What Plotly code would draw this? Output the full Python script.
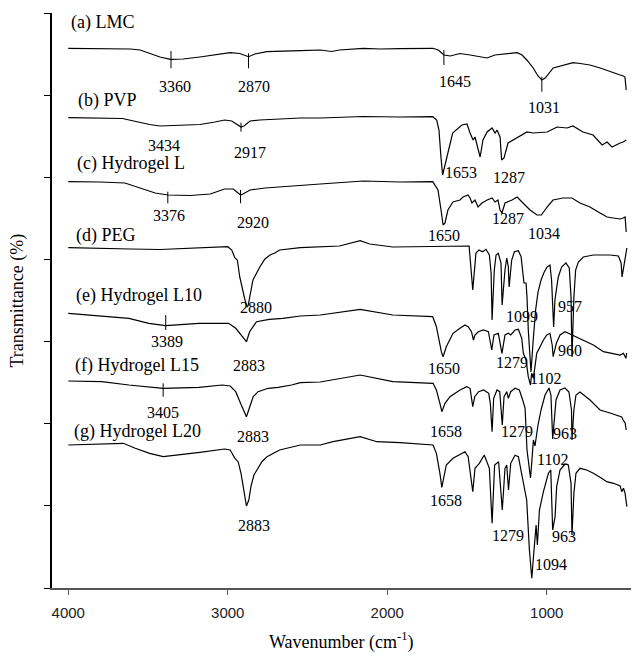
import plotly.graph_objects as go

# ---------------- data (wavenumber in cm-1, transmittance in arbitrary stacked units) -------------
wn_a = [4000,3800,3610,3550,3490,3425,3360,3280,3175,3080,2985,2925,2870,2830,2755,2545,2420,2350,2300,2150,
        2045,1920,1795,1715,1680,1645,1605,1545,1480,1420,1375,1325,1260,1185,1155,1125,1085,1055,1031,1010,
        960,915,835,790,730,665,605,540,520,510,502]
t_a = [539.7,539.5,539,538,535,531,528.7,529,531,533,535.3,534.5,531.3,534,536.3,537.3,538,536.5,538,539.7,
       539,539.3,539.5,539.7,538,533,532,534.5,533,531,530,533,534,535.3,533,528,520,512,508,510,
       520,522,525.3,524.5,523,520,516.3,513,512,511,498]

wn_b = [4000,3800,3660,3590,3490,3425,3300,3175,3080,3020,2975,2935,2917,2898,2860,2800,2675,2545,2420,2150,
        1920,1715,1690,1676,1663,1653,1626,1590,1532,1500,1481,1462,1450,1418,1400,1374,1343,1324,1312,1293,
        1283,1268,1243,1186,1124,1086,998,936,873,836,773,710,653,622,591,540,521,502]
t_b = [470.3,470,469.5,467,463.5,462,462.5,463.5,466,468,467,463,461,462,467,468,469,470,470,471.5,
       471,471.3,468,458,430,413,431,455,463,464,455,448,451,431,448,456,460,455,458,451,
       428,430,445,450,456,455,456,461,460,462,456,453,443,446,441,445,446,448]

wn_c = [4000,3800,3645,3550,3455,3375,3235,3110,3020,2965,2935,2920,2905,2860,2765,2610,2420,2150,1920,1715,
        1682,1663,1650,1638,1620,1588,1544,1525,1494,1481,1469,1450,1431,1406,1374,1343,1324,1306,1293,1281,
        1262,1218,1186,1149,1105,1061,1034,998,961,898,842,792,729,666,622,584,540,521,509,502]
t_c = [406.3,406,405,400,395,393,392.5,394,399,399,395,393,394,398,400,402,404,407,406,406.3,
       398,378,363,365,378,386,388,391,393,390,385,388,381,385,388,390,386,388,378,375,
       385,388,391,385,378,373,373,381,388,390,390,385,381,375,371,370,369,370,371,356]

wn_d = [4000,3800,3610,3425,3235,3050,3000,2975,2955,2940,2925,2892,2880,2873,2857,2842,2819,2798,2767,2735,
        2705,2675,2545,2420,2300,2170,2110,1965,1755,1545,1487,1464,1444,1425,1402,1381,1360,1349,1343,1329,
        1318,1304,1287,1280,1262,1251,1241,1236,1220,1203,1178,1161,1151,1143,1130,1124,1116,1099,1085,1070,
        1055,1036,1016,998,980,970,957,949,928,907,880,859,848,842,830,819,802,771,708,603,
        551,534,528,519,509,498]
t_d = [340.3,340,339,338.5,339.5,341,341.3,338,330,328,311,288,281.3,282,295,308,315,321.3,329,333,
       335,338,340.3,341.3,342,347.3,344,341,341.3,342,342,298,335,338,336.3,338.7,333,315,268,318,
       333,334.7,325,283,318,330,321.3,301,328,336.3,337.3,331.3,315,305,305,291,258,216,248,278,
       296,308,316,321,323,308,261,288,311,321,325,320,291,231,291,318,326,331,333,333,
       332,325,311,320,326,340]

wn_e = [4000,3620,3495,3390,3180,2995,2950,2905,2883,2863,2820,2740,2655,2545,2420,2170,1965,1715,1692,1661,
        1650,1630,1588,1544,1513,1493,1472,1460,1450,1429,1398,1366,1345,1331,1304,1281,1262,1241,1226,1199,
        1178,1157,1147,1130,1116,1102,1095,1084,1074,1063,1042,1021,1000,980,966,960,940,917,886,865,
        834,792,708,645,582,540,519,504,499]
t_e = [274.7,269.7,264.7,262.3,264.7,264.7,259.7,251.3,246.3,256.3,266.3,268.7,269.7,272,273,278.7,273,271.3,261.3,236.3,
       231.3,241.3,254.7,259.7,263,261.3,256.3,248,253,256.3,258,256.3,238,253,254.7,234.7,253,254.7,253,258,
       258.7,249.7,234.7,228,211.3,203,214.7,209.7,224.7,234.7,241.3,248,253,254.7,243,231.3,244.7,253,256.3,254.7,
       253,249.7,243,236.3,234.7,233,234.7,229.7,235]

wn_f = [4000,3790,3620,3405,3180,3035,2985,2950,2920,2883,2862,2841,2810,2747,2684,2600,2545,2420,2170,1965,
        1713,1692,1670,1658,1638,1607,1544,1502,1481,1464,1452,1427,1396,1364,1354,1343,1333,1312,1295,1279,
        1268,1251,1241,1226,1199,1172,1151,1136,1124,1102,1093,1084,1074,1055,1036,1011,986,974,963,955,
        942,917,886,861,845,842,830,817,792,729,666,603,561,530,521,509,502]
t_f = [207,206.3,203,199.7,200.7,203,202,196.3,184.7,171.3,181.3,191.3,196.3,199.7,200.7,203,205.3,206,213,206.3,
       204.7,198,184.7,176.3,184.7,191.3,198,201.3,199.7,181.3,191.3,196.3,198,194.7,184.7,156.3,189.7,198,196.3,163,
       191.3,196.3,189.7,196.3,199.7,198,188,179.7,138,110,128,148,142,163,178,193,200,193,149,168,
       188,198,200,196,178,148,178,193,196,188,178,175,173,171,168,165,158]

wn_g = [4000,3800,3655,3580,3490,3405,3300,3175,3020,2985,2955,2935,2917,2898,2883,2868,2855,2836,2811,2786,
        2754,2717,2675,2545,2420,2340,2170,2065,1920,1713,1692,1670,1658,1630,1588,1513,1493,1464,1450,1423,
        1392,1360,1343,1327,1302,1279,1262,1251,1240,1226,1199,1178,1157,1143,1126,1109,1094,1080,1067,1059,
        1046,1021,990,975,969,963,948,938,917,886,865,848,842,830,817,792,750,708,656,624,
        582,540,530,519,509,498]
t_g = [143,144,144.7,139.7,134.7,131.3,133,135.7,139,138,129.7,126.3,114.7,94.7,82,88,101.3,113,119.7,126.3,
       131.3,134.7,138,143,143,146.3,151.3,146.3,145.3,143,134.7,114.7,100.7,123,129.7,136.3,131.3,96.3,119.7,124.7,
       133,119.7,64.7,123,126.3,78,119.7,123,98,124.7,132.7,131.3,114.7,101.3,88,38,9.7,38,63,43,
       78,96.3,114.7,118,94.7,58,71.3,101.3,118,124,123,104.7,53,94.7,114.7,119.7,118,114.7,109.7,106.3,
       104.7,102,96.3,99.7,94.7,81.3]

spectra_wn = [wn_a, wn_b, wn_c, wn_d, wn_e, wn_f, wn_g]
spectra_t = [t_a, t_b, t_c, t_d, t_e, t_f, t_g]

# sample labels
label_text = ["(a) LMC", "(b) PVP", "(c) Hydrogel L", "(d) PEG", "(e) Hydrogel L10", "(f) Hydrogel L15", "(g) Hydrogel L20"]
label_wn = [3786, 3757, 3605, 3761, 3554, 3569, 3564]
label_t = [566, 488, 425, 353, 292.3, 223, 157]

# peak labels
peak_text = ["3360", "2870", "1645", "1031",
             "3434", "2917", "1653", "1287",
             "3376", "2920", "1650", "1287", "1034",
             "2880", "1099", "957",
             "3389", "2883", "1650", "1279", "1102", "960",
             "3405", "2883", "1658", "1279", "963", "1102",
             "2883", "1658", "1279", "963", "1094"]
peak_wn = [3331, 2834, 1577, 1020,
           3397, 2861, 1536, 1234,
           3370, 2845, 1645, 1243, 1019,
           2824, 1155, 855,
           3380, 2866, 1646, 1220, 1005, 852,
           3404, 2843, 1630, 1188, 886, 967,
           2834, 1634, 1243, 892, 976]
peak_t = [502, 502, 507, 481,
          443, 435.3, 416, 411,
          373, 365.7, 353, 369.7, 355,
          280.7, 272, 281.3,
          246.3, 222.3, 219.7, 225.7, 209.7, 238,
          176, 151.3, 156.3, 156.3, 154.7, 128.7,
          63, 88, 53, 52, 23.7]

# short vertical peak markers
mark_wn = [3356, 2870, 1645, 1031, 2917, 3376, 2920, 3389, 3405]
mark_lo = [519.7, 519.7, 523, 496.3, 456.3, 384.7, 384.7, 258, 191.3]
mark_hi = [537, 534.7, 538, 511.3, 465.3, 396.3, 398, 273, 204.7]

x_ticks = [4000, 3000, 2000, 1000]

for w, t in zip(spectra_wn, spectra_t):
    assert len(w) == len(t), (len(w), len(t))
assert len(peak_text) == len(peak_wn) == len(peak_t)

# ---------------- figure ----------------
fig = go.Figure()
for w, t in zip(spectra_wn, spectra_t):
    fig.add_trace(go.Scatter(x=w, y=t, mode="lines",
                             line=dict(color="black", width=1.2), showlegend=False, hoverinfo="skip"))

for xm, lo, hi in zip(mark_wn, mark_lo, mark_hi):
    fig.add_shape(type="line", xref="x", yref="y", x0=xm, x1=xm, y0=lo, y1=hi,
                  line=dict(color="black", width=1))

serif = "Liberation Serif, Times New Roman, serif"
for txt, xw, yt in zip(label_text, label_wn, label_t):
    fig.add_annotation(x=xw, y=yt, text=txt, showarrow=False, xanchor="center", yanchor="middle",
                       font=dict(family=serif, size=18, color="black"))
for txt, xw, yt in zip(peak_text, peak_wn, peak_t):
    fig.add_annotation(x=xw, y=yt, text=txt, showarrow=False, xanchor="center", yanchor="middle",
                       font=dict(family=serif, size=16, color="black"))

fig.add_annotation(xref="paper", yref="paper", x=0, y=0.5, xshift=-35, text="Transmittance (%)",
                   textangle=-90, showarrow=False, xanchor="center", yanchor="middle",
                   font=dict(family=serif, size=18, color="black"))
fig.add_annotation(xref="paper", yref="paper", x=0.5, y=0, yshift=-67,
                   text="Wavenumber (cm<sup>-1</sup>)", showarrow=False, xanchor="center", yanchor="bottom",
                   font=dict(family=serif, size=18, color="black"))

fig.update_layout(
    width=632, height=657,
    margin=dict(l=52, r=1, t=13, b=69),
    paper_bgcolor="white", plot_bgcolor="white",
    xaxis=dict(range=[4102, 472], showgrid=False, zeroline=False,
               showline=True, linecolor="#555555", linewidth=2,
               ticks="outside", ticklen=5, tickwidth=1, tickcolor="#555555",
               tickvals=x_ticks, ticktext=[str(v) for v in x_ticks],
               ticklabelstandoff=5,
               tickfont=dict(family="Liberation Sans, Arial, sans-serif", size=15, color="#222222")),
    yaxis=dict(range=[0, 575], showgrid=False, zeroline=False,
               showline=True, linecolor="black", linewidth=1.5,
               ticks="outside", ticklen=6, tickwidth=1, tickcolor="black",
               tick0=0, dtick=575 / 7, showticklabels=False),
)

fig.write_html("out.html")
